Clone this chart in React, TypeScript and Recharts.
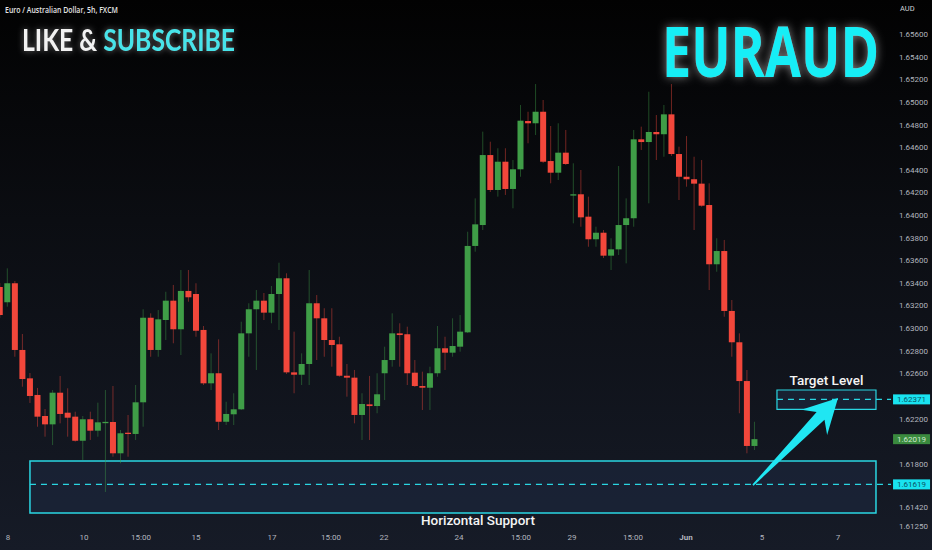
import { ComposedChart, Bar, XAxis, YAxis, ReferenceArea, ReferenceLine } from 'recharts'

// 5h candles, EUR/AUD
const opens = [
  1.63365, 1.63230, 1.63398, 1.62808, 1.62557, 1.62410, 1.62224, 1.62150, 1.62430, 1.62253,
  1.62218, 1.62005, 1.62195, 1.62094, 1.62165, 1.62171, 1.61894, 1.62076, 1.62065, 1.62345,
  1.63093, 1.62808, 1.63073, 1.63244, 1.62991, 1.63330, 1.63303, 1.62985, 1.62513, 1.62602,
  1.62173, 1.62239, 1.62283, 1.62955, 1.63168, 1.63244, 1.63138, 1.63303, 1.63442, 1.62610,
  1.62589, 1.62684, 1.63221, 1.63088, 1.62896, 1.62858, 1.62580, 1.62563, 1.62233, 1.62327,
  1.62312, 1.62602, 1.62719, 1.62955, 1.62947, 1.62607, 1.62489, 1.62474, 1.62602, 1.62823,
  1.62784, 1.62837, 1.62964, 1.63728, 1.63913, 1.64532, 1.64223, 1.64473, 1.64232, 1.64406,
  1.64833, 1.64813, 1.64915, 1.64479, 1.64376, 1.64553, 1.64176, 1.64185, 1.63987, 1.63787,
  1.63845, 1.63642, 1.63698, 1.63913, 1.63973, 1.64671, 1.64647, 1.64736, 1.64716, 1.64892,
  1.64541, 1.64340, 1.64318, 1.64279, 1.64090, 1.63566, 1.63683, 1.63153, 1.62876, 1.62533,
  1.61959,
]
const highs = [
  1.63400, 1.63530, 1.63418, 1.62949, 1.62604, 1.62472, 1.62286, 1.62454, 1.62578, 1.62469,
  1.62262, 1.62224, 1.62262, 1.62342, 1.62454, 1.62489, 1.62100, 1.62233, 1.62498, 1.63168,
  1.63132, 1.63161, 1.63323, 1.63383, 1.63515, 1.63515, 1.63398, 1.63020, 1.62778, 1.62902,
  1.62350, 1.62425, 1.63058, 1.63221, 1.63338, 1.63312, 1.63374, 1.63580, 1.63486, 1.62970,
  1.62778, 1.63515, 1.63294, 1.63177, 1.63177, 1.62925, 1.62684, 1.62631, 1.62425, 1.62578,
  1.62602, 1.62837, 1.63132, 1.63044, 1.63014, 1.62719, 1.62616, 1.62660, 1.63020, 1.62925,
  1.63088, 1.63117, 1.63854, 1.64149, 1.64739, 1.64650, 1.64592, 1.64592, 1.64488, 1.64975,
  1.64915, 1.65160, 1.65019, 1.64789, 1.64813, 1.64754, 1.64459, 1.64400, 1.64164, 1.63898,
  1.63869, 1.63796, 1.64435, 1.64149, 1.64754, 1.64783, 1.65092, 1.64886, 1.64975, 1.65160,
  1.64606, 1.64700, 1.64517, 1.64488, 1.64282, 1.63796, 1.63781, 1.63250, 1.62955, 1.62631,
  1.62173,
]
const lows = [
  1.63091, 1.63191, 1.62748, 1.62483, 1.62339, 1.62129, 1.62041, 1.61967, 1.62159, 1.62041,
  1.61997, 1.61835, 1.62012, 1.62041, 1.61552, 1.61864, 1.61806, 1.61864, 1.62012, 1.62129,
  1.62748, 1.62748, 1.62896, 1.62867, 1.62763, 1.63235, 1.62925, 1.62498, 1.62454, 1.62100,
  1.62144, 1.62144, 1.62277, 1.62748, 1.62631, 1.63073, 1.63044, 1.62985, 1.62595, 1.62425,
  1.62498, 1.62498, 1.62719, 1.62748, 1.62660, 1.62571, 1.62395, 1.62159, 1.62012, 1.62012,
  1.62248, 1.62365, 1.62660, 1.62660, 1.62498, 1.62480, 1.62277, 1.62277, 1.62571, 1.62631,
  1.62748, 1.62793, 1.62958, 1.63677, 1.63869, 1.64205, 1.64164, 1.64179, 1.64061, 1.64340,
  1.64636, 1.64709, 1.64462, 1.64282, 1.64311, 1.64444, 1.63928, 1.63898, 1.63721, 1.63721,
  1.63621, 1.63515, 1.63648, 1.63574, 1.63898, 1.64577, 1.64105, 1.64488, 1.64517, 1.64524,
  1.64134, 1.64252, 1.63869, 1.64075, 1.63338, 1.63500, 1.63102, 1.62748, 1.62248, 1.61894,
  1.61923,
]
const closes = [
  1.63117, 1.63398, 1.62808, 1.62551, 1.62401, 1.62218, 1.62150, 1.62430, 1.62242, 1.62209,
  1.62005, 1.62195, 1.62094, 1.62168, 1.62172, 1.61894, 1.62071, 1.62065, 1.62345, 1.63093,
  1.62808, 1.63079, 1.63244, 1.62991, 1.63330, 1.63274, 1.62978, 1.62513, 1.62602, 1.62173,
  1.62242, 1.62283, 1.62955, 1.63168, 1.63244, 1.63138, 1.63303, 1.63442, 1.62610, 1.62589,
  1.62684, 1.63221, 1.63088, 1.62896, 1.62852, 1.62580, 1.62563, 1.62233, 1.62330, 1.62312,
  1.62416, 1.62719, 1.62955, 1.62940, 1.62602, 1.62489, 1.62474, 1.62602, 1.62823, 1.62784,
  1.62843, 1.62970, 1.63728, 1.63919, 1.64532, 1.64223, 1.64473, 1.64232, 1.64406, 1.64836,
  1.64813, 1.64915, 1.64473, 1.64376, 1.64553, 1.64453, 1.64185, 1.63981, 1.63787, 1.63845,
  1.63642, 1.63698, 1.63913, 1.63973, 1.64671, 1.64647, 1.64736, 1.64716, 1.64892, 1.64541,
  1.64340, 1.64318, 1.64279, 1.64084, 1.63566, 1.63683, 1.63153, 1.62876, 1.62533, 1.61959,
  1.62019,
]

// candle slots incl. empty space on the right
const SLOTS = 117
const dateTicks = [1.09, 11.16, 18.71, 26.0, 36.07, 43.89, 50.91, 60.85, 69.06, 75.82, 83.91, 90.93, 101.0, 111.07]
const dateLabels = ['8', '10', '15:00', '15', '17', '15:00', '22', '24', '15:00', '29', '15:00', 'Jun', '5', '7']
const priceTicks = [
  1.656, 1.654, 1.652, 1.65, 1.648, 1.646, 1.644, 1.642, 1.64, 1.638, 1.636, 1.634,
  1.632, 1.63, 1.628, 1.626, 1.622, 1.618, 1.6142, 1.6125,
]

// drawings
const supportLevel = 1.61619
const supportZone = [1.61366, 1.61826]
const supportSpan = [4.0, 116.1]
const targetLevel = 1.62371
const targetZone = [1.62283, 1.62454]
const targetSpan = [102.98, 116.1]
const lastPrice = 1.62019
const tagAt = 118.36
const arrowFrom = { x: 99.8, y: 1.61613 }
const arrowTo = { x: 111.07, y: 1.62383 }

const GREEN = '#3f9d47'
const RED = '#f2473b'
const CYAN = '#2ad6e2'
const AXIS_TEXT = '#b2b5be'
const font = 'Roboto, "Noto Sans", sans-serif'

const rows = Array.from({ length: SLOTS }, (_, i) =>
  i < opens.length
    ? { i, o: opens[i], h: highs[i], l: lows[i], c: closes[i], range: [lows[i], highs[i]] }
    : { i })

function Candle(props: any) {
  const { x, y, width, height, payload } = props
  if (!payload || payload.o == null) return null
  const { o, h, l, c } = payload
  const span = h - l || 1e-9
  const py = (v: number) => y + ((h - v) / span) * height
  const col = c >= o ? GREEN : RED
  const cx = x + width / 2
  const top = py(Math.max(o, c))
  const bot = py(Math.min(o, c))
  return (
    <g>
      <line x1={cx} x2={cx} y1={y} y2={y + height} stroke={col} strokeOpacity={0.45} strokeWidth={1} />
      <rect x={x} y={top} width={width} height={Math.max(bot - top, 1.3)} fill={col} />
    </g>
  )
}

function DateTick({ x, y, payload }: any) {
  const k = dateTicks.indexOf(payload.value)
  const label = dateLabels[k] ?? ''
  return (
    <text x={x} y={y} dy={10} textAnchor="middle" fontSize={8} fill={AXIS_TEXT}
      fontFamily={font} fontWeight={label === 'Jun' ? 700 : 400}>{label}</text>
  )
}

const priceTag = (value: number, bg: string, fg: string, dashed: boolean) => (p: any) => (
  <g>
    {dashed && <line x1={p.x1} y1={p.y1} x2={p.x2 - 2} y2={p.y1} stroke={CYAN} strokeWidth={1.2} strokeDasharray="6 5" />}
    <rect x={p.x2} y={p.y1 - 5} width={37} height={10} fill={bg} />
    <text x={p.x2 + 18.5} y={p.y1 + 3} textAnchor="middle" fontSize={8} fontFamily={font} fill={fg}>{value.toFixed(5)}</text>
  </g>
)

function Arrow(p: any) {
  const { x1, y1, x2, y2 } = p
  const L = Math.hypot(x2 - x1, y2 - y1)
  const ux = (x2 - x1) / L, uy = (y2 - y1) / L
  const nx = -uy, ny = ux
  const at = (back: number, side: number) => `${x2 - ux * back + nx * side},${y2 - uy * back + ny * side}`
  const pts = [
    `${x1 + nx * 0.8},${y1 + ny * 0.8}`,
    at(25, 5.5), at(34, 18), at(0, 0), at(34, -18), at(25, -5.5),
    `${x1 - nx * 0.8},${y1 - ny * 0.8}`,
  ]
  return <polygon points={pts.join(' ')} fill="#20e6f2" />
}

function SupportLabel(p: any) {
  const vb = p.viewBox
  return (
    <text x={vb.x + vb.width / 2 + 25} y={vb.y + vb.height + 12} textAnchor="middle"
      fontSize={13.5} fontWeight={500} fill="#f4f4f4" fontFamily={font}>Horizontal Support</text>
  )
}

export default function App() {
  return (
    <div style={{
      position: 'absolute', left: 0, top: 0, width: 932, height: 550, overflow: 'hidden',
      background: 'linear-gradient(180deg, #020202 0%, #0b0d12 40%, #161b27 100%)',
    }}>
      <ComposedChart width={932} height={550} data={rows} barCategoryGap="10%"
        margin={{ top: 0, right: 0, bottom: 0, left: -4 }}>
        <XAxis xAxisId="num" dataKey="i" type="number" domain={[-0.5, SLOTS - 0.5]} allowDataOverflow
          ticks={dateTicks} interval={0} tick={<DateTick />} axisLine={false} tickLine={false}
          tickSize={0} tickMargin={0} height={20} />
        <XAxis xAxisId="cat" dataKey="i" type="category" hide height={0} />
        <YAxis orientation="right" width={53} domain={[1.612156, 1.659034]} allowDataOverflow
          ticks={priceTicks} interval={0} tickFormatter={(v: number) => v.toFixed(5)}
          tick={{ fontSize: 8, fill: AXIS_TEXT, fontFamily: font }}
          axisLine={false} tickLine={false} tickSize={6} tickMargin={14} />

        <ReferenceArea xAxisId="num" x1={supportSpan[0]} x2={supportSpan[1]} y1={supportZone[0]} y2={supportZone[1]}
          fill="#1a2438" fillOpacity={0.8} stroke={CYAN} strokeWidth={1.5} ifOverflow="visible"
          label={<SupportLabel />} />
        <ReferenceArea xAxisId="num" x1={targetSpan[0]} x2={targetSpan[1]} y1={targetZone[0]} y2={targetZone[1]}
          fill="#1a2438" fillOpacity={0.8} stroke={CYAN} strokeWidth={1.2} ifOverflow="visible"
          label={{ value: 'Target Level', position: 'top', fill: '#f4f4f4', fontSize: 13.5, fontWeight: 500, fontFamily: font }} />

        <Bar xAxisId="cat" dataKey="range" shape={<Candle />} isAnimationActive={false} />

        <ReferenceLine xAxisId="num" ifOverflow="visible"
          segment={[{ x: supportSpan[0], y: supportLevel }, { x: tagAt, y: supportLevel }]}
          shape={priceTag(supportLevel, '#19e3f0', '#0a5566', true)} />
        <ReferenceLine xAxisId="num" ifOverflow="visible"
          segment={[{ x: targetSpan[0], y: targetLevel }, { x: tagAt, y: targetLevel }]}
          shape={priceTag(targetLevel, '#19e3f0', '#0a5566', true)} />
        <ReferenceLine xAxisId="num" ifOverflow="visible"
          segment={[{ x: tagAt, y: lastPrice }, { x: tagAt, y: lastPrice }]}
          shape={priceTag(lastPrice, '#3a8a3e', '#cfe9cf', false)} />
        <ReferenceLine xAxisId="num" ifOverflow="visible" segment={[arrowFrom, arrowTo]} shape={Arrow} />
      </ComposedChart>

      <svg width={932} height={550} style={{ position: 'absolute', left: 0, top: 0, pointerEvents: 'none' }}>
        <defs>
          <filter id="glowBig" x="-20%" y="-50%" width="140%" height="200%">
            <feGaussianBlur in="SourceAlpha" stdDeviation="5" result="b" />
            <feFlood floodColor="#ffffff" floodOpacity="0.5" />
            <feComposite in2="b" operator="in" result="g" />
            <feMerge><feMergeNode in="g" /><feMergeNode in="SourceGraphic" /></feMerge>
          </filter>
          <filter id="glowSmall" x="-10%" y="-50%" width="120%" height="200%">
            <feGaussianBlur in="SourceAlpha" stdDeviation="3" result="b" />
            <feFlood floodColor="#ffffff" floodOpacity="0.4" />
            <feComposite in2="b" operator="in" result="g" />
            <feMerge><feMergeNode in="g" /><feMergeNode in="SourceGraphic" /></feMerge>
          </filter>
        </defs>
        <text x={5} y={13} fontSize={8.5} fontWeight={600} fill="#e6e6e6" fontFamily='"Open Sans", sans-serif'
          textLength={113} lengthAdjust="spacingAndGlyphs">Euro / Australian Dollar, 5h, FXCM</text>
        <text x={22} y={51} fontSize={31} fontWeight={700} fontFamily='Lato, "Open Sans", sans-serif'
          textLength={213} lengthAdjust="spacingAndGlyphs" filter="url(#glowSmall)">
          <tspan fill="#f2f2f2">LIKE &amp; </tspan><tspan fill="#46e4ea">SUBSCRIBE</tspan>
        </text>
        <text x={662} y={77} fontSize={70} fontWeight={700} fill="#12eef6" fontFamily='"Open Sans", sans-serif'
          textLength={217} lengthAdjust="spacingAndGlyphs" filter="url(#glowBig)">EURAUD</text>
        <text x={900} y={11} fontSize={7.5} fill="#d0d3da" fontFamily={font}>AUD</text>
      </svg>
    </div>
  )
}
